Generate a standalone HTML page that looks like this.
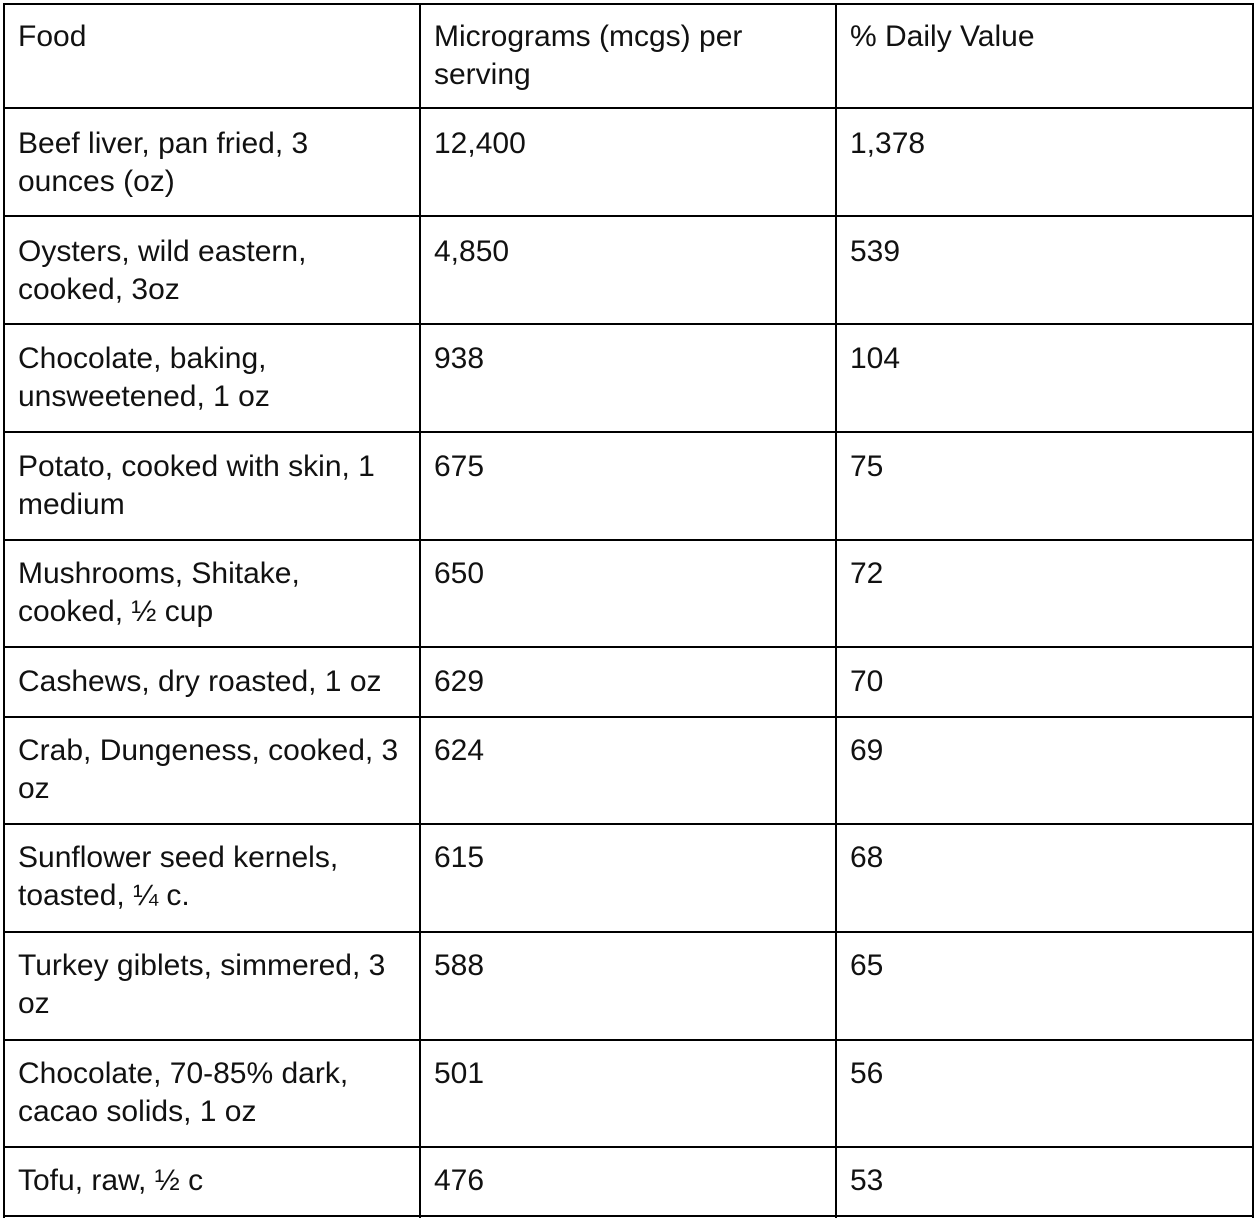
<!DOCTYPE html>
<html><head><meta charset="utf-8"><style>
html,body{margin:0;padding:0;background:#fff;width:1260px;height:1222px;overflow:hidden}
body{position:relative;font-family:"Liberation Sans",Arial,sans-serif;font-size:30px;color:#111}
.h{position:absolute;left:3px;width:1251px;height:2px;background:#000}
.v{position:absolute;top:3px;height:1215px;width:2px;background:#000}
.t{position:absolute;line-height:38px;white-space:nowrap;margin-top:2px}
</style></head><body>
<div class="h" style="top:3px"></div>
<div class="h" style="top:107px"></div>
<div class="h" style="top:215px"></div>
<div class="h" style="top:323px"></div>
<div class="h" style="top:431px"></div>
<div class="h" style="top:539px"></div>
<div class="h" style="top:646px"></div>
<div class="h" style="top:716px"></div>
<div class="h" style="top:823px"></div>
<div class="h" style="top:931px"></div>
<div class="h" style="top:1039px"></div>
<div class="h" style="top:1146px"></div>
<div class="h" style="top:1215px"></div>
<div class="v" style="left:3px"></div>
<div class="v" style="left:419px"></div>
<div class="v" style="left:835px"></div>
<div class="v" style="left:1252px"></div>

<div class="t" style="left:18px;top:16px">Food</div>
<div class="t" style="left:434px;top:16px">Micrograms (mcgs) per<br>serving</div>
<div class="t" style="left:850px;top:16px">% Daily Value</div>

<div class="t" style="left:18px;top:123px">Beef liver, pan fried, 3<br>ounces (oz)</div>
<div class="t" style="left:434px;top:123px">12,400</div>
<div class="t" style="left:850px;top:123px">1,378</div>

<div class="t" style="left:18px;top:231px">Oysters, wild eastern,<br>cooked, 3oz</div>
<div class="t" style="left:434px;top:231px">4,850</div>
<div class="t" style="left:850px;top:231px">539</div>

<div class="t" style="left:18px;top:338px">Chocolate, baking,<br>unsweetened, 1 oz</div>
<div class="t" style="left:434px;top:338px">938</div>
<div class="t" style="left:850px;top:338px">104</div>

<div class="t" style="left:18px;top:446px">Potato, cooked with skin, 1<br>medium</div>
<div class="t" style="left:434px;top:446px">675</div>
<div class="t" style="left:850px;top:446px">75</div>

<div class="t" style="left:18px;top:553px">Mushrooms, Shitake,<br>cooked, ½ cup</div>
<div class="t" style="left:434px;top:553px">650</div>
<div class="t" style="left:850px;top:553px">72</div>

<div class="t" style="left:18px;top:661px">Cashews, dry roasted, 1 oz</div>
<div class="t" style="left:434px;top:661px">629</div>
<div class="t" style="left:850px;top:661px">70</div>

<div class="t" style="left:18px;top:730px">Crab, Dungeness, cooked, 3<br>oz</div>
<div class="t" style="left:434px;top:730px">624</div>
<div class="t" style="left:850px;top:730px">69</div>

<div class="t" style="left:18px;top:837px">Sunflower seed kernels,<br>toasted, ¼ c.</div>
<div class="t" style="left:434px;top:837px">615</div>
<div class="t" style="left:850px;top:837px">68</div>

<div class="t" style="left:18px;top:945px">Turkey giblets, simmered, 3<br>oz</div>
<div class="t" style="left:434px;top:945px">588</div>
<div class="t" style="left:850px;top:945px">65</div>

<div class="t" style="left:18px;top:1053px">Chocolate, 70-85% dark,<br>cacao solids, 1 oz</div>
<div class="t" style="left:434px;top:1053px">501</div>
<div class="t" style="left:850px;top:1053px">56</div>

<div class="t" style="left:18px;top:1160px">Tofu, raw, ½ c</div>
<div class="t" style="left:434px;top:1160px">476</div>
<div class="t" style="left:850px;top:1160px">53</div>
</body></html>
